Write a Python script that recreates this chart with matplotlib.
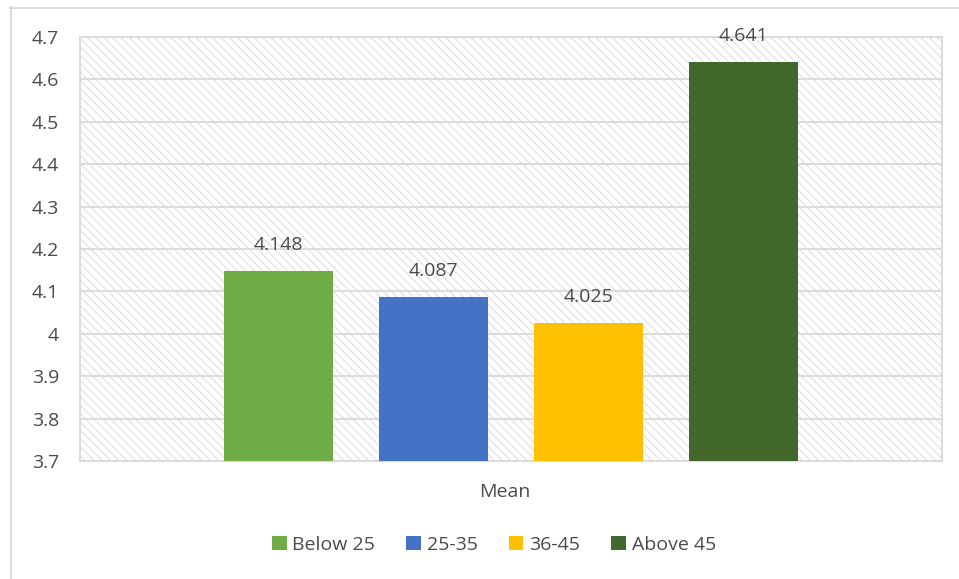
import matplotlib
matplotlib.use("Agg")
import matplotlib.pyplot as plt
from matplotlib.patches import Rectangle, Patch
from matplotlib.lines import Line2D

categories = ["Below 25", "25-35", "36-45", "Above 45"]
values = [4.148, 4.087, 4.025, 4.641]
colors = ["#70AD47", "#4472C4", "#FFC000", "#43682B"]
yticks = [3.7, 3.8, 3.9, 4.0, 4.1, 4.2, 4.3, 4.4, 4.5, 4.6, 4.7]
ytick_labels = ["3.7", "3.8", "3.9", "4", "4.1", "4.2", "4.3", "4.4", "4.5", "4.6", "4.7"]
xlabel = "Mean"

plt.rcParams["font.family"] = ["Open Sans", "DejaVu Sans"]
plt.rcParams["hatch.linewidth"] = 0.7
plt.rcParams["hatch.color"] = "#DCDCDC"

FS = 14
TXT = "#4A4A4A"
W, H = 959, 579
fig = plt.figure(figsize=(W / 100, H / 100), dpi=100)
ax = fig.add_axes([80 / W, (H - 461) / H, 862 / W, 424 / H])

# hatched plot area background
bg = Rectangle((0, 0), 1, 1, transform=ax.transAxes, facecolor="white",
               edgecolor="#DCDCDC", hatch="\\\\\\\\", linewidth=0, zorder=0)
ax.add_patch(bg)

for y in yticks:
    ax.axhline(y, color="#D9D9D9", linewidth=1.3, zorder=1)

x = list(range(len(categories)))
bars = ax.bar(x, [v - 3.7 for v in values], bottom=3.7, width=0.703,
              color=colors, zorder=3)
for xi, v in zip(x, values):
    ax.text(xi, v + 0.04, f"{v:.3f}", ha="center", va="bottom",
            fontsize=FS, color=TXT, zorder=4, clip_on=False)

ax.set_xlim(-1.28, 4.28)
ax.set_ylim(3.7, 4.7)
ax.set_yticks(yticks)
ax.set_yticklabels(ytick_labels, fontsize=FS, color=TXT)
ax.set_xticks([])
ax.tick_params(axis="y", length=0, pad=15)
for s in ax.spines.values():
    s.set_color("#D9D9D9")
    s.set_linewidth(1.3)

fig.text(505 / W, 1 - 492 / H, xlabel, ha="center", va="center",
         fontsize=FS, color=TXT)

handles = [Patch(facecolor=c, edgecolor="none") for c in colors]
fig.legend(handles, categories, loc="center", bbox_to_anchor=(494 / W, 1 - 545 / H),
           ncol=4, frameon=False, fontsize=FS, labelcolor=TXT,
           handlelength=0.75, handleheight=0.75, handletextpad=0.3, columnspacing=1.6)

# chart border (left and top visible)
fig.add_artist(Line2D([10.5 / W, 10.5 / W], [0, 1 - 7 / H], transform=fig.transFigure,
                      color="#D9D9D9", linewidth=1.3))
fig.add_artist(Line2D([10 / W, 1], [1 - 7.5 / H, 1 - 7.5 / H], transform=fig.transFigure,
                      color="#D9D9D9", linewidth=1.3))

fig.savefig("out.png", dpi=100)
